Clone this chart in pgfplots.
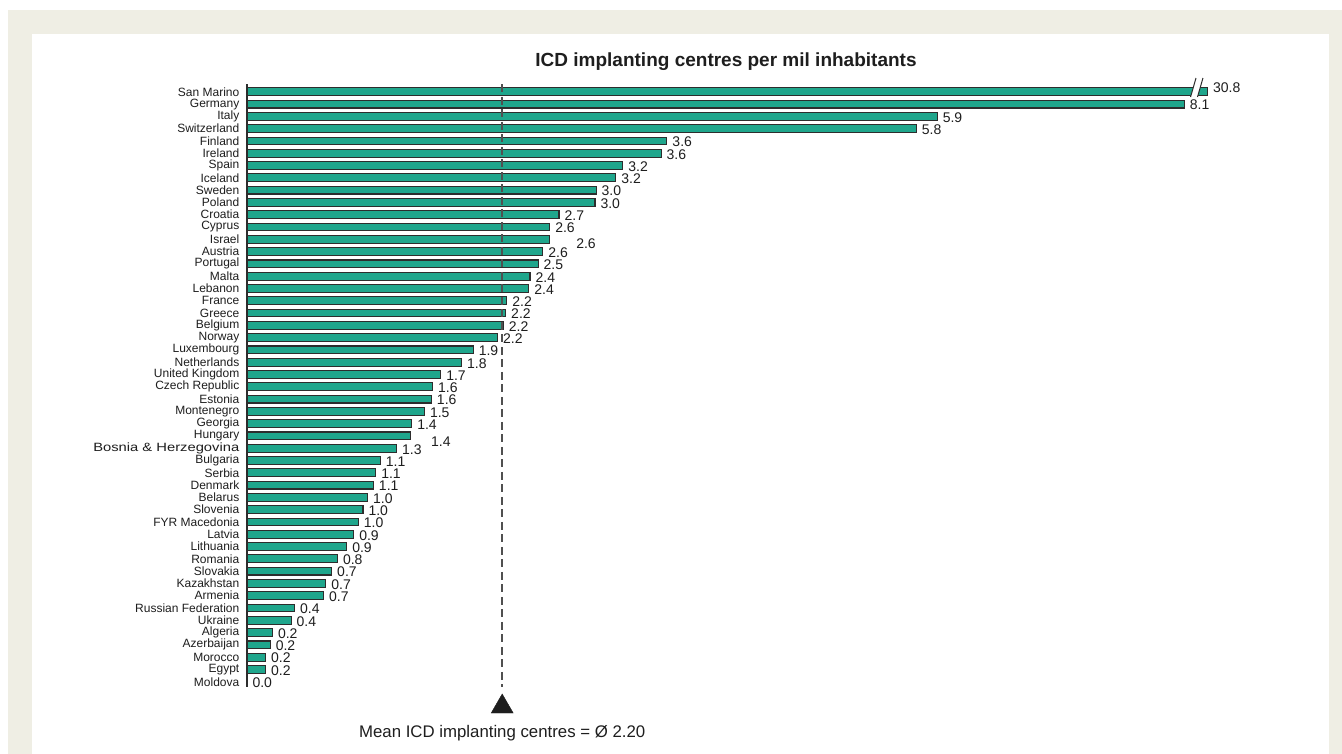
\documentclass[border=0pt]{standalone}
\usepackage{fontspec}
\setmainfont{Liberation Sans}
\usepackage{graphicx}
\usepackage{pgfplots}
\usepackage{pgfplotstable}
\pgfplotsset{compat=1.18}

\definecolor{bartea}{RGB}{31,166,140}
\definecolor{barline}{RGB}{45,45,45}
\definecolor{txt}{RGB}{30,30,30}
\definecolor{frame}{RGB}{239,238,228}
\definecolor{meangray}{RGB}{80,80,80}

% val = bar length, lbl = printed value, dx/dy = label nudges
\pgfplotstableread[col sep=comma]{
name,val,lbl,dx,dy
San Marino,30.8,30.8,0,5.5
Germany,8.08,8.1,0,0
Italy,5.95,5.9,0,0
Switzerland,5.77,5.8,0,0
Finland,3.62,3.6,0,0
Ireland,3.57,3.6,0,0
Spain,3.24,3.2,0,0
Iceland,3.18,3.2,0,0
Sweden,3.01,3.0,0,0
Poland,3.00,3.0,0,0
Croatia,2.69,2.7,0,0
Cyprus,2.61,2.6,0,0
Israel,2.61,2.6,21,-3.5
Austria,2.55,2.6,0,0
Portugal,2.51,2.5,0,0
Malta,2.44,2.4,0,0
Lebanon,2.43,2.4,0,0
France,2.24,2.2,0,0
Greece,2.23,2.2,0,0
Belgium,2.21,2.2,0,0
Norway,2.16,2.2,0,0
Luxembourg,1.95,1.9,0,0
Netherlands,1.85,1.8,0,0
United Kingdom,1.67,1.7,0,0
Czech Republic,1.60,1.6,0,0
Estonia,1.59,1.6,0,0
Montenegro,1.53,1.5,0,0
Georgia,1.42,1.4,0,0
Hungary,1.41,1.4,15,-4.5
\scalebox{1.23}[1]{Bosnia \& Herzegovina},1.29,1.3,0,0
Bulgaria,1.15,1.1,0,0
Serbia,1.11,1.1,0,0
Denmark,1.09,1.1,0,0
Belarus,1.04,1.0,0,0
Slovenia,1.00,1.0,0,0
FYR Macedonia,0.96,1.0,0,0
Latvia,0.92,0.9,0,0
Lithuania,0.86,0.9,0,0
Romania,0.78,0.8,0,0
Slovakia,0.73,0.7,0,0
Kazakhstan,0.68,0.7,0,0
Armenia,0.66,0.7,0,0
Russian Federation,0.41,0.4,0,0
Ukraine,0.38,0.4,0,0
Algeria,0.22,0.2,0,0
Azerbaijan,0.20,0.2,0,0
Morocco,0.16,0.2,0,0
Egypt,0.16,0.2,0,0
Moldova,0.00,0.0,0,0
}\data

\begin{document}
\begin{tikzpicture}
% background frame
\fill[white] (0,0) rectangle (1342pt,-754pt);
\fill[frame] (8pt,-10pt) rectangle (1342pt,-754pt);
\fill[white] (32pt,-34pt) rectangle (1329pt,-754pt);

\node[anchor=base, font=\fontsize{19}{19}\selectfont\bfseries, text=txt]
    at (726pt,-67pt) {ICD implanting centres per mil inhabitants};

\begin{axis}[
    at={(247pt,-84.3pt)}, anchor=north west,
    scale only axis,
    x=116pt, y=12.29pt,
    xmin=0, xmax=8.28,
    ymin=-0.61, ymax=48.4,
    y dir=reverse,
    axis x line=none,
    axis y line*=left,
    y axis line style={draw=barline, line width=1.3pt},
    ytick={0,...,48},
    yticklabels from table={\data}{name},
    major tick length=0pt,
    yticklabel style={font=\fontsize{12}{12}\selectfont, text=txt, inner sep=0pt, xshift=-7.5pt},
    clip=false,
]

\addplot[xbar, bar width=7.8pt, fill=bartea, draw=barline, line width=1.1pt,
    point meta=explicit symbolic,
    visualization depends on={\thisrow{dx} \as \ndx},
    visualization depends on={\thisrow{dy} \as \ndy},
    nodes near coords,
    every node near coord/.append style={anchor=west, inner sep=0pt,
        font=\fontsize{14}{14}\selectfont, text=txt,
        xshift=5pt, yshift=-1pt, xshift=\ndx pt, yshift=\ndy pt}]
    table[x expr={min(\thisrow{val},8.28)}, y expr=\coordindex, meta=lbl] {\data};

% axis break on the San Marino bar
\fill[white] (axis cs:8.134,0.42) -- (axis cs:8.181,-1.12) -- (axis cs:8.241,-1.12) -- (axis cs:8.194,0.42) -- cycle;
\draw[barline, line width=1pt] (axis cs:8.134,0.42) -- (axis cs:8.181,-1.12);
\draw[barline, line width=1pt] (axis cs:8.194,0.42) -- (axis cs:8.241,-1.12);

% mean line, drawn over the bars
\draw[meangray, line width=1.6pt, dash pattern=on 8pt off 4.5pt]
    (axis cs:2.2,-0.61) -- (axis cs:2.2,48.4);
\addplot[only marks, mark=triangle*, mark size=12.7pt, mark options={fill=txt, draw=txt}] coordinates {(2.2,50.03)};
\node[anchor=base, font=\fontsize{16.8}{17}\selectfont, text=txt] at (axis cs:2.2,52.5) {Mean ICD implanting centres = Ø 2.20};
\end{axis}

\pgfresetboundingbox
\useasboundingbox (0,0) rectangle (1342pt,-754pt);
\end{tikzpicture}
\end{document}
